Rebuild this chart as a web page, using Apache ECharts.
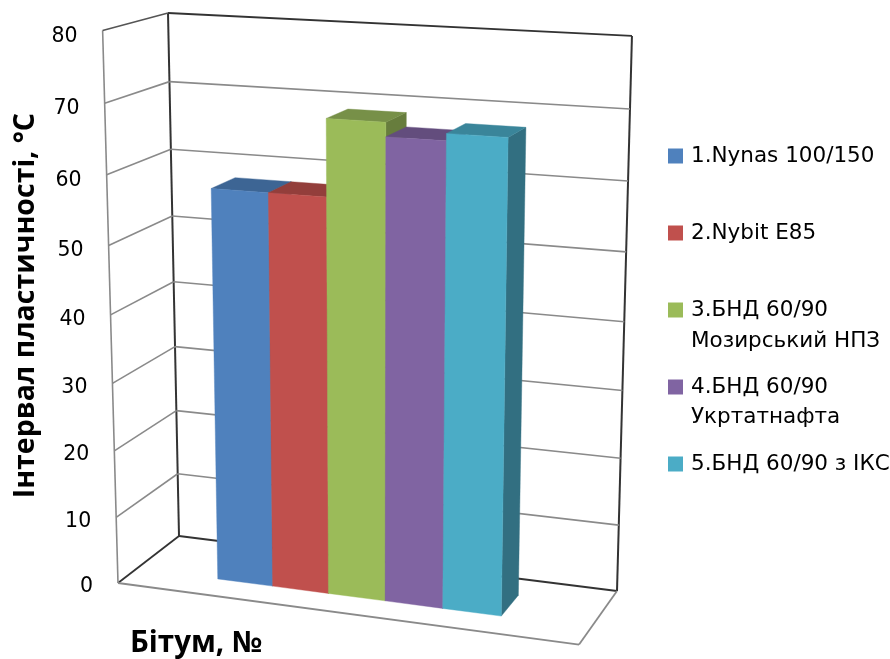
<!DOCTYPE html>
<html>
<head>
<meta charset="utf-8">
<style>html,body{margin:0;padding:0;background:#fff}#chart{width:890px;height:659px}</style>
<script src="https://cdn.jsdelivr.net/npm/echarts@6/dist/echarts.min.js"></script>
</head>
<body>
<div id="chart"></div>
<script>
// Plasticity interval of bitumen samples, drawn as a 3D clustered column chart.
const categories = ['Бітум'];
const seriesNames = ['1.Nynas 100/150', '2.Nybit E85', '3.БНД 60/90\nМозирський НПЗ', '4.БНД 60/90\nУкртатнафта', '5.БНД 60/90 з ІКС'];
const seriesValues = [57.8, 57.8, 68.7, 66.7, 67.7];
const seriesColors = ['#4F81BD', '#C0504D', '#9BBB59', '#8064A2', '#4BACC6'];
const topColors = ['#3D6594', '#933E3B', '#779048', '#634D7D', '#3A859A'];
const sideColors = ['#355780', '#7F3533', '#677D3D', '#55426B', '#326F81'];
const tickValues = [0, 10, 20, 30, 40, 50, 60, 70, 80];
const tickLabels = ['0', '10', '20', '30', '40', '50', '60', '70', '80'];
const yTitle = 'Інтервал пластичності, °C';
const xTitle = 'Бітум, №';

const FONT = '"DejaVu Sans", sans-serif';
const BOLD_FONT = '"Open Sans", "Noto Sans", sans-serif';
const GRID = { left: 200, top: 100, width: 500, height: 400 };

// Box projection: origin is the floor's back-left corner; x runs along the back
// wall, y up the wall, z towards the viewer.
const O = [179, 536], PX = [617, 591], PY = [168, 13], PZ = [118, 583];
const WX = 0.94, WY = 0.946, WZ = 0.945;
function project(x, y, z) {
  const w = 1 - x - y - z;
  const hx = w * O[0] + x * WX * PX[0] + y * WY * PY[0] + z * WZ * PZ[0];
  const hy = w * O[1] + x * WX * PX[1] + y * WY * PY[1] + z * WZ * PZ[1];
  const hw = w + x * WX + y * WY + z * WZ;
  return [hx / hw, hy / hw];
}

// Columns occupy the middle of the floor, with a gap of 1.5 column widths each side.
const BAND_START = 0.1875, BAND_SPAN = 0.625, Z_FRONT = 0.7, Z_BACK = 0.3;

function heightOf(api, value) {
  const y0 = api.coord([0, 0])[1];
  const y1 = api.coord([0, 80])[1];
  return (y0 - api.coord([0, value])[1]) / (y0 - y1);
}

function poly(points, fill) {
  return { type: 'polygon', shape: { points }, style: { fill, stroke: fill, lineWidth: 0.4 } };
}
function line(a, b, color, width) {
  return {
    type: 'line',
    shape: { x1: a[0], y1: a[1], x2: b[0], y2: b[1] },
    style: { stroke: color, lineWidth: width, fill: null }
  };
}

const DARK = '#333333', GREY = '#8a8a8a';

function renderFrame(params, api) {
  const v = api.value(0);
  const h = heightOf(api, v);
  const children = [];
  const isBase = v === 0, isTop = v === 80;
  const wallColor = isBase || isTop ? DARK : GREY;
  const wallWidth = isBase || isTop ? 1.8 : 1.6;
  children.push(line(project(0, h, 0), project(1, h, 0), wallColor, wallWidth));
  children.push(line(project(0, h, 1), project(0, h, 0), isBase ? DARK : (isTop ? '#555' : GREY), isBase ? 1.8 : 1.6));
  if (isBase) {
    children.push(line(project(0, 0, 0), project(0, 1, 0), DARK, 2));
    children.push(line(project(1, 0, 0), project(1, 1, 0), DARK, 2));
    children.push(line(project(0, 0, 1), project(0, 1, 1), GREY, 1.6));
    children.push(line(project(0, 0, 1), project(1, 0, 1), GREY, 1.8));
    children.push(line(project(1, 0, 1), project(1, 0, 0), GREY, 1.8));
  }
  const p = project(0, h, 1);
  children.push({
    type: 'text',
    style: {
      x: p[0] - 25, y: p[1] + 3.5 + 2.5 * h,
      text: tickLabels[tickValues.indexOf(v)],
      align: 'right', verticalAlign: 'middle',
      font: '20.5px ' + FONT, fill: '#000'
    }
  });
  return { type: 'group', children };
}

function renderColumn(index) {
  return function (params, api) {
    const centre = api.coord([0, api.value(1)])[0];
    const frac = (centre - GRID.left) / GRID.width;
    const x = BAND_START + BAND_SPAN * frac;
    const half = BAND_SPAN / seriesNames.length / 2;
    const xa = x - half + (index - (seriesNames.length - 1) / 2) * half * 2;
    const xb = xa + half * 2;
    const h = heightOf(api, api.value(1));
    return {
      type: 'group',
      children: [
        poly([project(xb, 0, Z_FRONT), project(xb, 0, Z_BACK), project(xb, h, Z_BACK), project(xb, h, Z_FRONT)], sideColors[index]),
        poly([project(xa, h, Z_FRONT), project(xb, h, Z_FRONT), project(xb, h, Z_BACK), project(xa, h, Z_BACK)], topColors[index]),
        poly([project(xa, 0, Z_FRONT), project(xb, 0, Z_FRONT), project(xb, h, Z_FRONT), project(xa, h, Z_FRONT)], seriesColors[index])
      ]
    };
  };
}

const series = [{
  name: 'frame',
  type: 'custom',
  silent: true,
  coordinateSystem: 'cartesian2d',
  data: tickValues.map(v => [v]),
  encode: { y: 0 },
  renderItem: renderFrame,
  clip: false
}];
seriesNames.forEach((name, i) => {
  series.push({
    name,
    type: 'custom',
    coordinateSystem: 'cartesian2d',
    itemStyle: { color: seriesColors[i] },
    data: [[categories[0], seriesValues[i]]],
    encode: { x: 0, y: 1 },
    renderItem: renderColumn(i),
    clip: false,
    z: 3 + i
  });
});

// Second lines of the two-line legend entries sit below their first lines.
const legendRowY = [155.7, 231.9, 308.3, 384.4, 460.7];
const legendExtras = [];
seriesNames.forEach((name, i) => {
  const parts = name.split('\n');
  if (parts.length > 1) {
    legendExtras.push({
      type: 'text', left: 691, top: legendRowY[i] + 22,
      style: { text: parts[1], font: '21.5px ' + FONT, fill: '#000' }
    });
  }
});

const chart = echarts.init(document.getElementById('chart'), null, { renderer: 'canvas' });
chart.setOption({
  animation: false,
  backgroundColor: '#fff',
  grid: GRID,
  xAxis: { type: 'category', data: categories, show: false },
  yAxis: { type: 'value', min: 0, max: 80, interval: 10, show: false },
  legend: {
    orient: 'vertical',
    left: 668,
    top: 145,
    padding: 0,
    icon: 'rect',
    itemWidth: 15,
    itemHeight: 15,
    itemGap: 55,
    selectedMode: false,
    data: seriesNames,
    formatter: name => name.split('\n')[0],
    textStyle: { fontFamily: FONT, fontSize: 21.5, color: '#000', padding: [0, 0, 0, 3] }
  },
  graphic: [
    {
      type: 'text', left: 11, top: 113, rotation: Math.PI / 2,
      style: { text: yTitle, font: 'bold 28.5px ' + BOLD_FONT, fill: '#000' },
      silent: true
    },
    {
      type: 'text', left: 130, top: 629,
      style: { text: xTitle, font: 'bold 29.5px ' + BOLD_FONT, fill: '#000' },
      silent: true
    }
  ].concat(legendExtras),
  series
});
</script>
</body>
</html>
